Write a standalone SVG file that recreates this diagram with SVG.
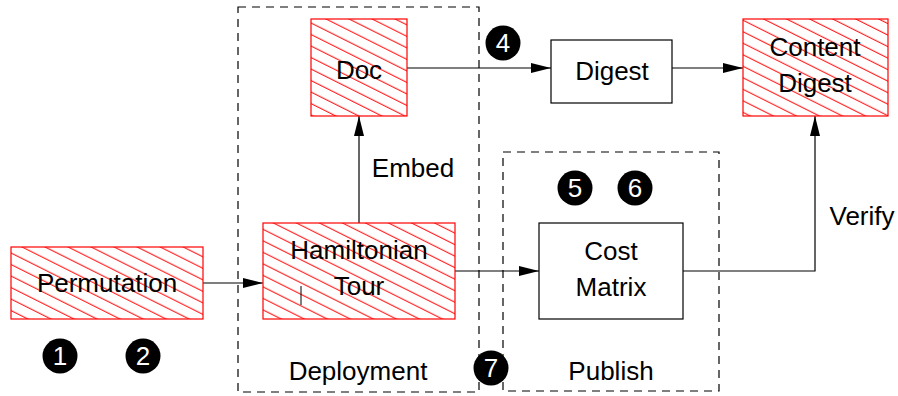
<svg xmlns="http://www.w3.org/2000/svg" width="898" height="396" viewBox="0 0 898 396">
<defs>
<pattern id="hatch" patternUnits="userSpaceOnUse" width="12" height="10.3" patternTransform="rotate(26.57)">
<line x1="0" y1="5" x2="12" y2="5" stroke="#ff0000" stroke-width="1"/>
</pattern>
<marker id="arr" markerUnits="userSpaceOnUse" markerWidth="21" markerHeight="10" refX="20" refY="5" orient="auto">
<path d="M0,0 L20,5 L0,10 z" fill="#000"/>
</marker>
</defs>
<style>
text{font-family:"Liberation Sans",Arial,sans-serif;font-size:26px;fill:#000;text-anchor:middle}
.hatched{fill:url(#hatch);stroke:#ff0000;stroke-width:1.2}
.plain{fill:#fff;stroke:#000;stroke-width:1.2}
.group{fill:none;stroke:#000;stroke-width:1.2;stroke-dasharray:8,6}
.conn{fill:none;stroke:#000;stroke-width:1.2;marker-end:url(#arr)}
.badge circle{fill:#000}
.badge text{fill:#fff;font-size:26px}
</style>
<rect width="898" height="396" fill="#fff"/>
<g id="group-deployment">
<rect class="group" x="238" y="7" width="241" height="385"/>
<text x="358" y="380">Deployment</text>
</g>
<g id="group-publish">
<rect class="group" x="503" y="152" width="216" height="239"/>
<text x="611" y="380">Publish</text>
</g>
<g id="connectors">
<line class="conn" x1="203" y1="283" x2="263" y2="283"/>
<line class="conn" x1="455" y1="271" x2="539" y2="271"/>
<line class="conn" x1="359" y1="223" x2="359" y2="116"/>
<line class="conn" x1="407" y1="68" x2="551" y2="68"/>
<line class="conn" x1="672" y1="68" x2="743" y2="68"/>
<polyline class="conn" points="683,271 815,271 815,116"/>
<text x="413" y="177">Embed</text>
<text x="862" y="225">Verify</text>
</g>
<g id="permutation">
<rect class="hatched" x="11" y="247" width="192" height="72"/>
<text x="107" y="292">Permutation</text>
</g>
<g id="doc">
<rect class="hatched" x="311" y="19" width="96" height="97"/>
<text x="359" y="79">Doc</text>
</g>
<g id="hamiltonian-tour">
<rect class="hatched" x="263" y="223" width="192" height="96"/>
<text x="359" y="259">Hamiltonian</text>
<text x="359" y="295">Tour</text>
<line x1="301" y1="286" x2="301" y2="305" stroke="#000" stroke-width="1"/>
</g>
<g id="digest">
<rect class="plain" x="551" y="40" width="121" height="63"/>
<text x="612" y="80">Digest</text>
</g>
<g id="content-digest">
<rect class="hatched" x="743" y="19" width="145" height="97"/>
<text x="815" y="56">Content</text>
<text x="815" y="92">Digest</text>
</g>
<g id="cost-matrix">
<rect class="plain" x="539" y="223" width="144" height="96"/>
<text x="611" y="260">Cost</text>
<text x="611" y="296">Matrix</text>
</g>
<g id="badges">
<g class="badge"><circle cx="60" cy="356" r="17.5"/><text x="60" y="365">1</text></g>
<g class="badge"><circle cx="143" cy="356" r="17.5"/><text x="143" y="365">2</text></g>
<g class="badge"><circle cx="503" cy="43" r="17.5"/><text x="503" y="52">4</text></g>
<g class="badge"><circle cx="575" cy="188" r="17.5"/><text x="575" y="197">5</text></g>
<g class="badge"><circle cx="635" cy="188" r="17.5"/><text x="635" y="197">6</text></g>
<g class="badge"><circle cx="491" cy="368" r="17.5"/><text x="491" y="377">7</text></g>
</g>
</svg>
